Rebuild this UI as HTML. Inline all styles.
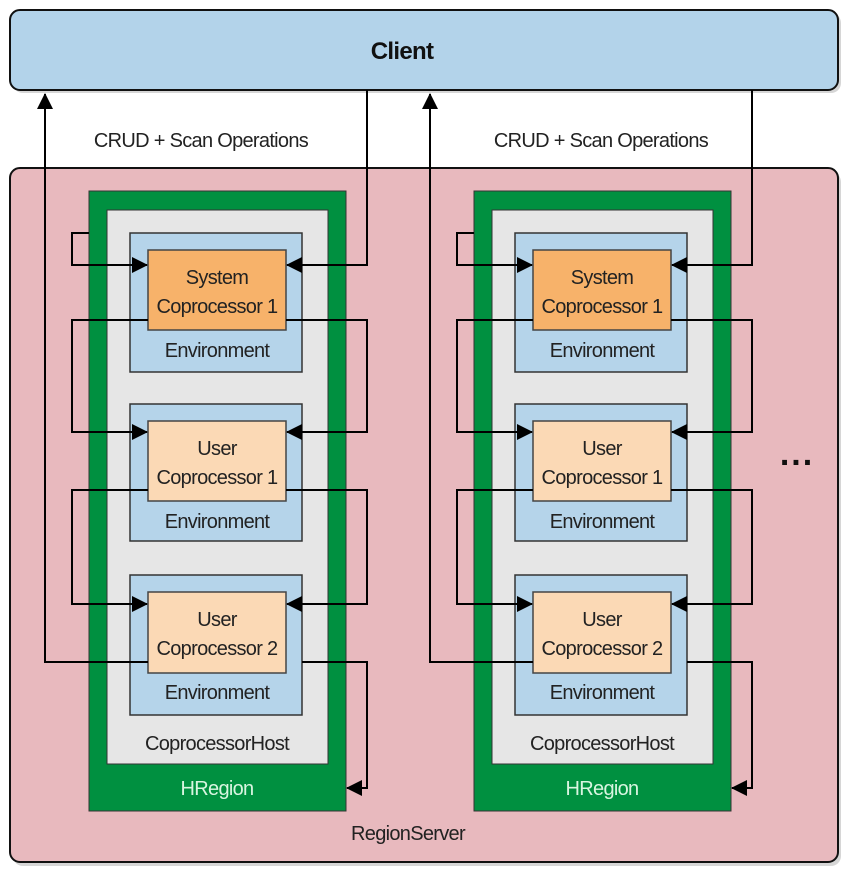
<!DOCTYPE html>
<html><head><meta charset="utf-8"><style>
html,body{margin:0;padding:0;background:#fff;}
text{font-family:"Liberation Sans",sans-serif;font-size:20px;fill:#222;text-anchor:middle;letter-spacing:-0.7px;}
</style></head><body>
<svg width="859" height="881" viewBox="0 0 859 881" xmlns="http://www.w3.org/2000/svg">
<defs>
<marker id="b" markerWidth="16" markerHeight="16" refX="15" refY="8" orient="auto" markerUnits="userSpaceOnUse" viewBox="0 0 16 16"><path d="M0,0 L16,8 L0,16 Z" fill="#000"/></marker>
</defs>
<rect x="13" y="13" width="828" height="80" rx="10" fill="#999" opacity="0.4"/>
<rect x="10" y="10" width="828" height="80" rx="10" fill="#b3d3ea" stroke="#111" stroke-width="2"/>
<text x="402" y="59" style="font-weight:bold;font-size:24px;fill:#111">Client</text>
<rect x="13" y="172" width="828" height="694" rx="10" fill="#999" opacity="0.4"/>
<rect x="10" y="168" width="828" height="694" rx="10" fill="#e8b9be" stroke="#111" stroke-width="2"/>
<text x="201" y="147">CRUD + Scan Operations</text>
<text x="601" y="147">CRUD + Scan Operations</text>
<text x="408" y="840">RegionServer</text>
<text x="797" y="465" style="font-size:34px;font-weight:bold;letter-spacing:2px;fill:#111">...</text>
<g id="col">
<rect x="89" y="191" width="257" height="620" fill="#009040" stroke="#333" stroke-width="1"/>
<rect x="107" y="210" width="221" height="554" fill="#e6e6e6" stroke="#333" stroke-width="1"/>
<rect x="130" y="233" width="172" height="139" fill="#b5d4ea" stroke="#333" stroke-width="1.5"/>
<rect x="130" y="404" width="172" height="137" fill="#b5d4ea" stroke="#333" stroke-width="1.5"/>
<rect x="130" y="575" width="172" height="140" fill="#b5d4ea" stroke="#333" stroke-width="1.5"/>
<rect x="148" y="250" width="138" height="80" fill="#f7b26a" stroke="#444" stroke-width="1.5"/>
<rect x="148" y="421" width="138" height="80" fill="#fbd9b5" stroke="#444" stroke-width="1.5"/>
<rect x="148" y="592" width="138" height="81" fill="#fbd9b5" stroke="#444" stroke-width="1.5"/>
<text x="217" y="284">System</text><text x="217" y="313">Coprocessor 1</text>
<text x="217" y="357">Environment</text>
<text x="217" y="455">User</text><text x="217" y="484">Coprocessor 1</text>
<text x="217" y="528">Environment</text>
<text x="217" y="626">User</text><text x="217" y="655">Coprocessor 2</text>
<text x="217" y="699">Environment</text>
<text x="217" y="750">CoprocessorHost</text>
<text x="217" y="795" style="fill:#d8f5e0">HRegion</text>
<g fill="none" stroke="#000" stroke-width="2">
<path d="M148,662 H45 V94" marker-end="url(#b)"/>
<path d="M367,90 V265 H287" marker-end="url(#b)"/>
<path d="M89,233 H72 V265 H147" marker-end="url(#b)"/>
<path d="M148,320 H72 V432 H147" marker-end="url(#b)"/>
<path d="M148,490 H72 V604 H147" marker-end="url(#b)"/>
<path d="M286,320 H367 V432 H287" marker-end="url(#b)"/>
<path d="M286,490 H367 V604 H287" marker-end="url(#b)"/>
<path d="M302,662 H367 V788 H347" marker-end="url(#b)"/>
</g>
</g>
<use href="#col" transform="translate(385,0)"/>
</svg>
</body></html>
